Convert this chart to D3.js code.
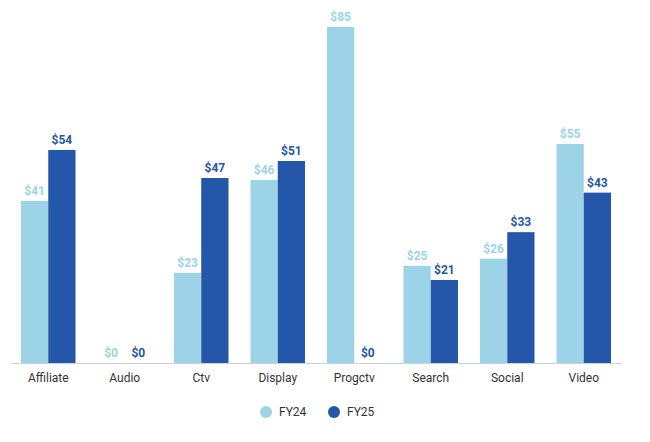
<!DOCTYPE html>
<html>
<head>
<meta charset="utf-8">
<script src="https://cdn.jsdelivr.net/npm/d3@7"></script>
<style>
  body { margin: 0; background: #fff; }
  svg text { font-family: Roboto, sans-serif; }
</style>
</head>
<body>
<div id="chart"></div>
<script>
const categories = ['Affiliate', 'Audio', 'Ctv', 'Display', 'Progctv', 'Search', 'Social', 'Video']
const seriesNames = ['FY24', 'FY25']
// values; labels show them rounded
const fy24 = [41.0, 0, 22.8, 46.3, 85.0, 24.6, 26.4, 55.4]
const fy25 = [53.9, 0, 46.8, 51.1, 0, 21.0, 33.1, 43.1]
const colors = ['#9dd3e7', '#2457a9']

const width = 650
const height = 442

const svg = d3.select('#chart')
  .append('svg')
  .attr('width', width)
  .attr('height', height)

const x0 = d3.scaleBand().domain(categories).range([10, 622]).padding(0)
const x1 = d3.scaleBand().domain(seriesNames).range([11, x0.bandwidth() - 11]).padding(0)
const y = d3.scaleLinear().domain([0, 85]).range([363, 27])

const rows = categories.map((c, i) => ({ cat: c, values: [fy24[i], fy25[i]] }))

const groups = svg.selectAll('.grp')
  .data(rows)
  .join('g')
  .attr('class', 'grp')
  .attr('transform', d => `translate(${x0(d.cat)},0)`)

groups.selectAll('rect')
  .data(d => d.values.map((v, j) => ({ key: seriesNames[j], v, j })))
  .join('rect')
  .attr('x', d => x1(d.key))
  .attr('y', d => y(d.v))
  .attr('width', x1.bandwidth())
  .attr('height', d => y(0) - y(d.v))
  .attr('fill', d => colors[d.j])

groups.selectAll('text.val')
  .data(d => d.values.map((v, j) => ({ key: seriesNames[j], v, j })))
  .join('text')
  .attr('class', 'val')
  .attr('x', d => x1(d.key) + x1.bandwidth() / 2)
  .attr('y', d => y(d.v) - 6)
  .attr('text-anchor', 'middle')
  .style('font-size', '12px')
  .style('font-weight', 'bold')
  .attr('fill', d => colors[d.j])
  .text(d => '$' + Math.round(d.v))

// x axis
const axis = svg.append('g')
  .attr('transform', `translate(0,${y(0)})`)
  .call(d3.axisBottom(x0).tickSize(0).tickPadding(10))
axis.select('.domain').attr('stroke', '#ccd3e0').attr('stroke-width', 1)
axis.selectAll('text')
  .style('font-size', '12px')
  .style('font-family', 'Roboto, sans-serif')
  .attr('fill', '#333')

// legend
const legend = svg.append('g')
const legendX = [266, 334]
seriesNames.forEach((s, i) => {
  legend.append('circle')
    .attr('cx', legendX[i])
    .attr('cy', 412)
    .attr('r', 6)
    .attr('fill', colors[i])
  legend.append('text')
    .attr('x', legendX[i] + 13)
    .attr('y', 416)
    .style('font-size', '12px')
    .attr('fill', '#333')
    .text(s)
})
</script>
</body>
</html>
